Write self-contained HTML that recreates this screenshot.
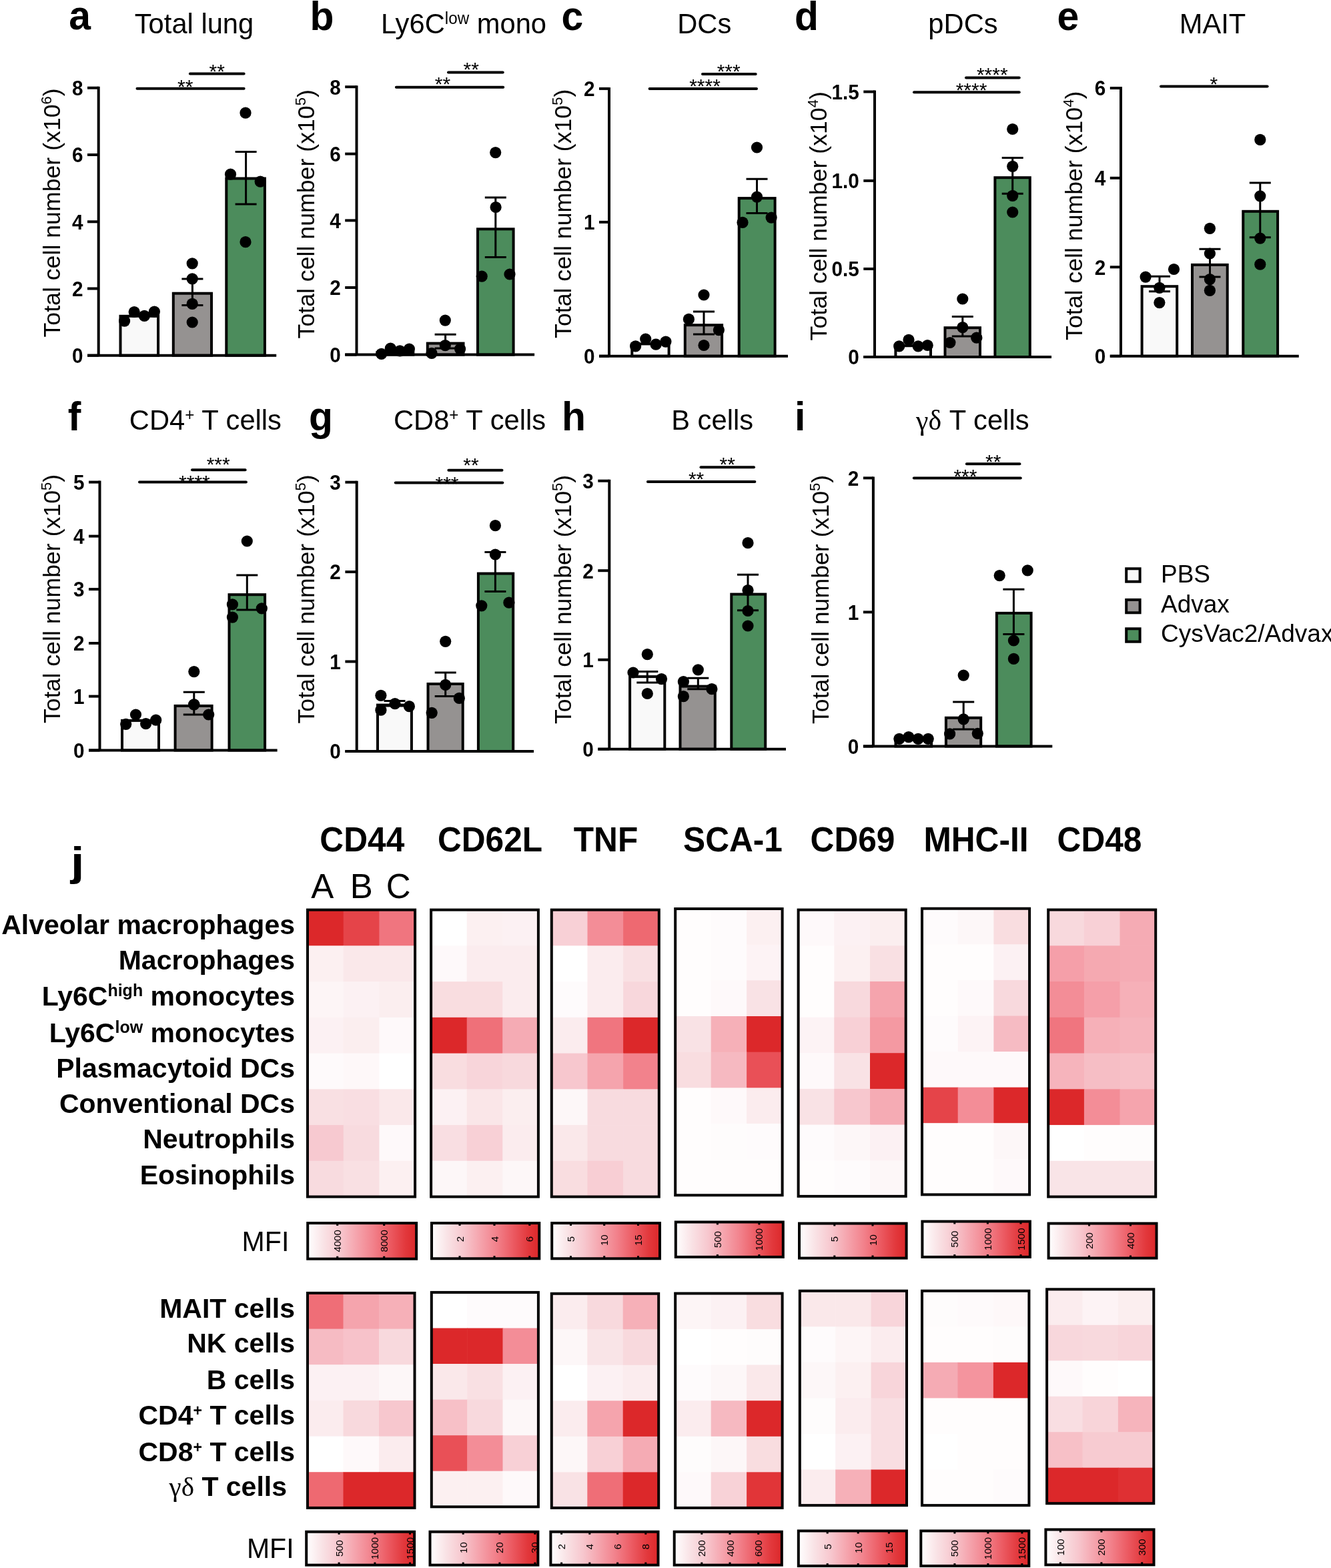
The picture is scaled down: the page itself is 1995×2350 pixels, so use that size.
<!DOCTYPE html><html><head><meta charset="utf-8"><title>Figure</title><style>html,body{margin:0;padding:0;background:#fff;}svg{display:block;}</style></head><body>
<svg width="1995" height="2350" viewBox="0 0 1995 2350" font-family="'Liberation Sans', Arial, Helvetica, sans-serif" fill="#000">
<defs><linearGradient id="mfigrad" x1="0" x2="1" y1="0" y2="0"><stop offset="0" stop-color="#ffffff"/><stop offset="0.15" stop-color="#f9e2e5"/><stop offset="0.3" stop-color="#f7c7ce"/><stop offset="0.45" stop-color="#f5a4ad"/><stop offset="0.6" stop-color="#f2828c"/><stop offset="0.75" stop-color="#ec5c64"/><stop offset="0.9" stop-color="#e2383c"/><stop offset="1.0" stop-color="#dc282a"/></linearGradient></defs>
<rect width="1995" height="2350" fill="#fff"/>
<rect x="180.5" y="473.8" width="56.6" height="58.9" fill="#f9f9f9" stroke="#000" stroke-width="4"/>
<rect x="259.8" y="439.7" width="57.2" height="93" fill="#959291" stroke="#000" stroke-width="4"/>
<rect x="339.3" y="267.5" width="57.6" height="265.2" fill="#4c8c5c" stroke="#000" stroke-width="4"/>
<path d="M288.4 417.9V457.4M272.4 417.9H304.4M272.4 457.4H304.4" stroke="#000" stroke-width="3" fill="none"/>
<path d="M368.6 227.4V305.9M352.6 227.4H384.6M352.6 305.9H384.6" stroke="#000" stroke-width="3" fill="none"/>
<circle cx="186.6" cy="481.1" r="8.6"/>
<circle cx="201.2" cy="467.5" r="8.6"/>
<circle cx="216.4" cy="473.3" r="8.6"/>
<circle cx="231.4" cy="467.2" r="8.6"/>
<circle cx="288.2" cy="394.8" r="8.6"/>
<circle cx="288.2" cy="417.9" r="8.6"/>
<circle cx="288.2" cy="455.4" r="8.6"/>
<circle cx="288.2" cy="483" r="8.6"/>
<circle cx="368" cy="169.2" r="8.6"/>
<circle cx="345.5" cy="261.2" r="8.6"/>
<circle cx="390.2" cy="272.2" r="8.6"/>
<circle cx="368" cy="362.7" r="8.6"/>
<path d="M147.7 129.7V532.7M131 532.7H414.2" stroke="#000" stroke-width="4" fill="none"/>
<path d="M131 131.7H147.7" stroke="#000" stroke-width="4"/>
<text transform="translate(124.5,143) scale(0.93,1)" text-anchor="end" font-weight="bold" font-size="32">8</text>
<path d="M131 232H147.7" stroke="#000" stroke-width="4"/>
<text transform="translate(124.5,243.3) scale(0.93,1)" text-anchor="end" font-weight="bold" font-size="32">6</text>
<path d="M131 332.3H147.7" stroke="#000" stroke-width="4"/>
<text transform="translate(124.5,343.6) scale(0.93,1)" text-anchor="end" font-weight="bold" font-size="32">4</text>
<path d="M131 432.5H147.7" stroke="#000" stroke-width="4"/>
<text transform="translate(124.5,443.8) scale(0.93,1)" text-anchor="end" font-weight="bold" font-size="32">2</text>
<path d="M131 532.7H147.7" stroke="#000" stroke-width="4"/>
<text transform="translate(124.5,544) scale(0.93,1)" text-anchor="end" font-weight="bold" font-size="32">0</text>
<path d="M205.5 132.7H365.6" stroke="#000" stroke-width="4" stroke-linecap="round"/>
<text x="277.7" y="139.5" text-anchor="middle" font-size="30">**</text>
<path d="M284.9 110.5H365.6" stroke="#000" stroke-width="4" stroke-linecap="round"/>
<text x="325.2" y="116.8" text-anchor="middle" font-size="30">**</text>
<text transform="translate(103.2,44) scale(0.95,1)" font-weight="bold" font-size="62">a</text>
<text transform="translate(291,50) scale(0.97,1)" text-anchor="middle" font-size="43">Total lung</text>
<text transform="translate(89.8,318.9) rotate(-90)" text-anchor="middle" font-size="35.7">Total cell number (x10<tspan font-size="22" dy="-13">6</tspan><tspan dy="13">)</tspan></text>
<rect x="565.5" y="528" width="53.8" height="3.6" fill="#f9f9f9" stroke="#000" stroke-width="4"/>
<rect x="640.8" y="514.6" width="53.7" height="17" fill="#959291" stroke="#000" stroke-width="4"/>
<rect x="716" y="343.3" width="53.6" height="188.3" fill="#4c8c5c" stroke="#000" stroke-width="4"/>
<path d="M667.6 501.3V522M651.6 501.3H683.6M651.6 522H683.6" stroke="#000" stroke-width="3" fill="none"/>
<path d="M742.8 296V385.6M726.8 296H758.8M726.8 385.6H758.8" stroke="#000" stroke-width="3" fill="none"/>
<circle cx="571.7" cy="530.3" r="8.6"/>
<circle cx="585.3" cy="522.2" r="8.6"/>
<circle cx="599.4" cy="525.8" r="8.6"/>
<circle cx="613.4" cy="523.1" r="8.6"/>
<circle cx="667.3" cy="480.1" r="8.6"/>
<circle cx="667.3" cy="517.6" r="8.6"/>
<circle cx="647" cy="529.4" r="8.6"/>
<circle cx="689.6" cy="523.1" r="8.6"/>
<circle cx="742.7" cy="228.6" r="8.6"/>
<circle cx="743.1" cy="310.5" r="8.6"/>
<circle cx="722.2" cy="414.2" r="8.6"/>
<circle cx="764" cy="411" r="8.6"/>
<path d="M534.5 128.2V531.6M517.2 531.6H801.1" stroke="#000" stroke-width="4" fill="none"/>
<path d="M517.2 130.2H534.5" stroke="#000" stroke-width="4"/>
<text transform="translate(510.7,141.5) scale(0.93,1)" text-anchor="end" font-weight="bold" font-size="32">8</text>
<path d="M517.2 230.6H534.5" stroke="#000" stroke-width="4"/>
<text transform="translate(510.7,241.9) scale(0.93,1)" text-anchor="end" font-weight="bold" font-size="32">6</text>
<path d="M517.2 330.4H534.5" stroke="#000" stroke-width="4"/>
<text transform="translate(510.7,341.7) scale(0.93,1)" text-anchor="end" font-weight="bold" font-size="32">4</text>
<path d="M517.2 431H534.5" stroke="#000" stroke-width="4"/>
<text transform="translate(510.7,442.3) scale(0.93,1)" text-anchor="end" font-weight="bold" font-size="32">2</text>
<path d="M517.2 531.6H534.5" stroke="#000" stroke-width="4"/>
<text transform="translate(510.7,542.9) scale(0.93,1)" text-anchor="end" font-weight="bold" font-size="32">0</text>
<path d="M593.9 130.7H754.2" stroke="#000" stroke-width="4" stroke-linecap="round"/>
<text x="663.5" y="135.8" text-anchor="middle" font-size="30">**</text>
<path d="M672 108.6H753.7" stroke="#000" stroke-width="4" stroke-linecap="round"/>
<text x="706.2" y="114.3" text-anchor="middle" font-size="30">**</text>
<text transform="translate(464.4,44.5) scale(0.95,1)" font-weight="bold" font-size="62">b</text>
<text transform="translate(695,50) scale(0.97,1)" text-anchor="middle" font-size="43">Ly6C<tspan font-size="25" dy="-14.5">low</tspan><tspan dy="14.5"> mono</tspan></text>
<text transform="translate(471.4,320.8) rotate(-90)" text-anchor="middle" font-size="35.7">Total cell number (x10<tspan font-size="22" dy="-13">5</tspan><tspan dy="13">)</tspan></text>
<rect x="947.3" y="515.4" width="55.3" height="18.3" fill="#f9f9f9" stroke="#000" stroke-width="4"/>
<rect x="1026.8" y="487.2" width="55.3" height="46.5" fill="#959291" stroke="#000" stroke-width="4"/>
<rect x="1107.7" y="297.1" width="53.9" height="236.6" fill="#4c8c5c" stroke="#000" stroke-width="4"/>
<path d="M1055 467V501M1039 467H1071M1039 501H1071" stroke="#000" stroke-width="3" fill="none"/>
<path d="M1134.5 268.2V319.4M1118.5 268.2H1150.5M1118.5 319.4H1150.5" stroke="#000" stroke-width="3" fill="none"/>
<circle cx="952.6" cy="518.9" r="8.6"/>
<circle cx="967.7" cy="508.1" r="8.6"/>
<circle cx="983.1" cy="516.2" r="8.6"/>
<circle cx="997.9" cy="512.1" r="8.6"/>
<circle cx="1055" cy="442" r="8.6"/>
<circle cx="1032.4" cy="478.4" r="8.6"/>
<circle cx="1077.4" cy="494.6" r="8.6"/>
<circle cx="1055" cy="517.5" r="8.6"/>
<circle cx="1134.5" cy="221" r="8.6"/>
<circle cx="1134.5" cy="295.1" r="8.6"/>
<circle cx="1113" cy="333.4" r="8.6"/>
<circle cx="1156.1" cy="326.1" r="8.6"/>
<path d="M913 130.9V533.7M898 533.7H1181" stroke="#000" stroke-width="4" fill="none"/>
<path d="M898 132.9H913" stroke="#000" stroke-width="4"/>
<text transform="translate(891.5,144.2) scale(0.93,1)" text-anchor="end" font-weight="bold" font-size="32">2</text>
<path d="M898 332.9H913" stroke="#000" stroke-width="4"/>
<text transform="translate(891.5,344.2) scale(0.93,1)" text-anchor="end" font-weight="bold" font-size="32">1</text>
<path d="M898 533.7H913" stroke="#000" stroke-width="4"/>
<text transform="translate(891.5,545) scale(0.93,1)" text-anchor="end" font-weight="bold" font-size="32">0</text>
<path d="M973.6 132.9H1134" stroke="#000" stroke-width="4" stroke-linecap="round"/>
<text x="1056.5" y="138.5" text-anchor="middle" font-size="30">****</text>
<path d="M1053 111H1132.7" stroke="#000" stroke-width="4" stroke-linecap="round"/>
<text x="1092.2" y="117" text-anchor="middle" font-size="30">***</text>
<text transform="translate(841.6,44.5) scale(0.95,1)" font-weight="bold" font-size="62">c</text>
<text transform="translate(1055.8,50) scale(0.97,1)" text-anchor="middle" font-size="43">DCs</text>
<text transform="translate(855.8,320.3) rotate(-90)" text-anchor="middle" font-size="35.7">Total cell number (x10<tspan font-size="22" dy="-13">5</tspan><tspan dy="13">)</tspan></text>
<rect x="1342.4" y="518.2" width="52.6" height="16.8" fill="#f9f9f9" stroke="#000" stroke-width="4"/>
<rect x="1416.5" y="491.2" width="52.5" height="43.8" fill="#959291" stroke="#000" stroke-width="4"/>
<rect x="1491.4" y="266.2" width="52.4" height="268.8" fill="#4c8c5c" stroke="#000" stroke-width="4"/>
<path d="M1442.8 474.4V504M1426.8 474.4H1458.8M1426.8 504H1458.8" stroke="#000" stroke-width="3" fill="none"/>
<path d="M1517.7 236.4V290.3M1501.7 236.4H1533.7M1501.7 290.3H1533.7" stroke="#000" stroke-width="3" fill="none"/>
<circle cx="1347.7" cy="518.9" r="8.6"/>
<circle cx="1362" cy="509.4" r="8.6"/>
<circle cx="1376.2" cy="518.9" r="8.6"/>
<circle cx="1390.2" cy="517.5" r="8.6"/>
<circle cx="1442.8" cy="448" r="8.6"/>
<circle cx="1442.8" cy="490.6" r="8.6"/>
<circle cx="1423.9" cy="513.5" r="8.6"/>
<circle cx="1463.8" cy="506.2" r="8.6"/>
<circle cx="1517.7" cy="193.5" r="8.6"/>
<circle cx="1517.7" cy="249.3" r="8.6"/>
<circle cx="1517.7" cy="293.3" r="8.6"/>
<circle cx="1517.7" cy="318" r="8.6"/>
<path d="M1311 135.5V535M1294.3 535H1576" stroke="#000" stroke-width="4" fill="none"/>
<path d="M1294.3 137.5H1311" stroke="#000" stroke-width="4"/>
<text transform="translate(1287.8,148.8) scale(0.93,1)" text-anchor="end" font-weight="bold" font-size="32">1.5</text>
<path d="M1294.3 270.9H1311" stroke="#000" stroke-width="4"/>
<text transform="translate(1287.8,282.2) scale(0.93,1)" text-anchor="end" font-weight="bold" font-size="32">1.0</text>
<path d="M1294.3 403H1311" stroke="#000" stroke-width="4"/>
<text transform="translate(1287.8,414.3) scale(0.93,1)" text-anchor="end" font-weight="bold" font-size="32">0.5</text>
<path d="M1294.3 535H1311" stroke="#000" stroke-width="4"/>
<text transform="translate(1287.8,546.3) scale(0.93,1)" text-anchor="end" font-weight="bold" font-size="32">0</text>
<path d="M1370 138.3H1527.7" stroke="#000" stroke-width="4" stroke-linecap="round"/>
<text x="1456" y="145.3" text-anchor="middle" font-size="30">****</text>
<path d="M1448 116.4H1527.7" stroke="#000" stroke-width="4" stroke-linecap="round"/>
<text x="1487.3" y="122.4" text-anchor="middle" font-size="30">****</text>
<text transform="translate(1191.1,44.5) scale(0.95,1)" font-weight="bold" font-size="62">d</text>
<text transform="translate(1443.5,50) scale(0.97,1)" text-anchor="middle" font-size="43">pDCs</text>
<text transform="translate(1239.4,323.8) rotate(-90)" text-anchor="middle" font-size="35.7">Total cell number (x10<tspan font-size="22" dy="-13">4</tspan><tspan dy="13">)</tspan></text>
<rect x="1711.6" y="429.2" width="52.6" height="104.5" fill="#f9f9f9" stroke="#000" stroke-width="4"/>
<rect x="1787" y="396.9" width="52.7" height="136.8" fill="#959291" stroke="#000" stroke-width="4"/>
<rect x="1863.3" y="316.8" width="51.8" height="216.9" fill="#4c8c5c" stroke="#000" stroke-width="4"/>
<path d="M1738 414.3V436.7M1722 414.3H1754M1722 436.7H1754" stroke="#000" stroke-width="3" fill="none"/>
<path d="M1813.5 373.3V415.1M1797.5 373.3H1829.5M1797.5 415.1H1829.5" stroke="#000" stroke-width="3" fill="none"/>
<path d="M1888.8 274.1V355.8M1872.8 274.1H1904.8M1872.8 355.8H1904.8" stroke="#000" stroke-width="3" fill="none"/>
<circle cx="1717.1" cy="415.1" r="8.6"/>
<circle cx="1737.9" cy="431.3" r="8.6"/>
<circle cx="1737.9" cy="453.6" r="8.6"/>
<circle cx="1759.5" cy="403.5" r="8.6"/>
<circle cx="1813.4" cy="342.3" r="8.6"/>
<circle cx="1813.4" cy="380" r="8.6"/>
<circle cx="1813.4" cy="418.6" r="8.6"/>
<circle cx="1813.4" cy="435.3" r="8.6"/>
<circle cx="1888.8" cy="209.4" r="8.6"/>
<circle cx="1888.8" cy="293.8" r="8.6"/>
<circle cx="1888.8" cy="357.1" r="8.6"/>
<circle cx="1888.8" cy="396.2" r="8.6"/>
<path d="M1680 130V533.7M1663.8 533.7H1946.8" stroke="#000" stroke-width="4" fill="none"/>
<path d="M1663.8 132H1680" stroke="#000" stroke-width="4"/>
<text transform="translate(1657.3,143.3) scale(0.93,1)" text-anchor="end" font-weight="bold" font-size="32">6</text>
<path d="M1663.8 266.8H1680" stroke="#000" stroke-width="4"/>
<text transform="translate(1657.3,278.1) scale(0.93,1)" text-anchor="end" font-weight="bold" font-size="32">4</text>
<path d="M1663.8 400.3H1680" stroke="#000" stroke-width="4"/>
<text transform="translate(1657.3,411.6) scale(0.93,1)" text-anchor="end" font-weight="bold" font-size="32">2</text>
<path d="M1663.8 533.7H1680" stroke="#000" stroke-width="4"/>
<text transform="translate(1657.3,545) scale(0.93,1)" text-anchor="end" font-weight="bold" font-size="32">0</text>
<path d="M1740 129.4H1899.6" stroke="#000" stroke-width="4" stroke-linecap="round"/>
<text x="1819.4" y="135.8" text-anchor="middle" font-size="30">*</text>
<text transform="translate(1584.6,44.5) scale(0.95,1)" font-weight="bold" font-size="62">e</text>
<text transform="translate(1817.5,50) scale(0.97,1)" text-anchor="middle" font-size="43">MAIT</text>
<text transform="translate(1622.4,323.3) rotate(-90)" text-anchor="middle" font-size="35.7">Total cell number (x10<tspan font-size="22" dy="-13">4</tspan><tspan dy="13">)</tspan></text>
<rect x="183" y="1079.9" width="55" height="44.6" fill="#f9f9f9" stroke="#000" stroke-width="4"/>
<rect x="262.6" y="1057.9" width="55" height="66.6" fill="#959291" stroke="#000" stroke-width="4"/>
<rect x="343.5" y="891.2" width="53.6" height="233.3" fill="#4c8c5c" stroke="#000" stroke-width="4"/>
<path d="M290.8 1037.3V1071M274.8 1037.3H306.8M274.8 1071H306.8" stroke="#000" stroke-width="3" fill="none"/>
<path d="M370.3 862V914.1M354.3 862H386.3M354.3 914.1H386.3" stroke="#000" stroke-width="3" fill="none"/>
<circle cx="188.7" cy="1085.3" r="8.6"/>
<circle cx="203.5" cy="1071" r="8.6"/>
<circle cx="218.6" cy="1084.7" r="8.6"/>
<circle cx="233.7" cy="1079.2" r="8.6"/>
<circle cx="290.8" cy="1006.6" r="8.6"/>
<circle cx="290.8" cy="1055.9" r="8.6"/>
<circle cx="312.7" cy="1071" r="8.6"/>
<circle cx="290.8" cy="1055.9" r="8.6"/>
<circle cx="370.3" cy="811" r="8.6"/>
<circle cx="348.4" cy="905.9" r="8.6"/>
<circle cx="348.4" cy="925.1" r="8.6"/>
<circle cx="392.3" cy="911.9" r="8.6"/>
<path d="M149.5 720.6V1124.5M133 1124.5H415.6" stroke="#000" stroke-width="4" fill="none"/>
<path d="M133 722.6H149.5" stroke="#000" stroke-width="4"/>
<text transform="translate(126.5,733.9) scale(0.93,1)" text-anchor="end" font-weight="bold" font-size="32">5</text>
<path d="M133 803.6H149.5" stroke="#000" stroke-width="4"/>
<text transform="translate(126.5,814.9) scale(0.93,1)" text-anchor="end" font-weight="bold" font-size="32">4</text>
<path d="M133 883.1H149.5" stroke="#000" stroke-width="4"/>
<text transform="translate(126.5,894.4) scale(0.93,1)" text-anchor="end" font-weight="bold" font-size="32">3</text>
<path d="M133 964H149.5" stroke="#000" stroke-width="4"/>
<text transform="translate(126.5,975.3) scale(0.93,1)" text-anchor="end" font-weight="bold" font-size="32">2</text>
<path d="M133 1043.6H149.5" stroke="#000" stroke-width="4"/>
<text transform="translate(126.5,1054.9) scale(0.93,1)" text-anchor="end" font-weight="bold" font-size="32">1</text>
<path d="M133 1124.5H149.5" stroke="#000" stroke-width="4"/>
<text transform="translate(126.5,1135.8) scale(0.93,1)" text-anchor="end" font-weight="bold" font-size="32">0</text>
<path d="M209 722.6H368.9" stroke="#000" stroke-width="4" stroke-linecap="round"/>
<text x="291.4" y="733.1" text-anchor="middle" font-size="30">****</text>
<path d="M288 704.3H367.6" stroke="#000" stroke-width="4" stroke-linecap="round"/>
<text x="327.2" y="705.7" text-anchor="middle" font-size="30">***</text>
<text transform="translate(101.7,644.5) scale(0.95,1)" font-weight="bold" font-size="62">f</text>
<text transform="translate(307.9,644) scale(0.97,1)" text-anchor="middle" font-size="43">CD4<tspan font-size="25" dy="-14.5">+</tspan><tspan dy="14.5"> T cells</tspan></text>
<text transform="translate(89.5,897.4) rotate(-90)" text-anchor="middle" font-size="35.7">Total cell number (x10<tspan font-size="22" dy="-13">5</tspan><tspan dy="13">)</tspan></text>
<rect x="566" y="1056.6" width="50.9" height="69.4" fill="#f9f9f9" stroke="#000" stroke-width="4"/>
<rect x="641.5" y="1025" width="52.2" height="101" fill="#959291" stroke="#000" stroke-width="4"/>
<rect x="716.9" y="859.6" width="52.3" height="266.4" fill="#4c8c5c" stroke="#000" stroke-width="4"/>
<path d="M591.5 1050.5V1058M575.5 1050.5H607.5M575.5 1058H607.5" stroke="#000" stroke-width="3" fill="none"/>
<path d="M667.7 1008V1043.6M651.7 1008H683.7M651.7 1043.6H683.7" stroke="#000" stroke-width="3" fill="none"/>
<path d="M742.4 827.5V886.4M726.4 827.5H758.4M726.4 886.4H758.4" stroke="#000" stroke-width="3" fill="none"/>
<circle cx="570.9" cy="1042.3" r="8.6"/>
<circle cx="570.9" cy="1064.2" r="8.6"/>
<circle cx="592" cy="1054.6" r="8.6"/>
<circle cx="613.4" cy="1058.7" r="8.6"/>
<circle cx="667.7" cy="961.3" r="8.6"/>
<circle cx="667.7" cy="1026.4" r="8.6"/>
<circle cx="647.2" cy="1068.3" r="8.6"/>
<circle cx="688.3" cy="1046.4" r="8.6"/>
<circle cx="742.4" cy="787.7" r="8.6"/>
<circle cx="742.4" cy="831" r="8.6"/>
<circle cx="721.8" cy="907.8" r="8.6"/>
<circle cx="762.9" cy="903.2" r="8.6"/>
<path d="M534.7 720.7V1126M517.4 1126H800" stroke="#000" stroke-width="4" fill="none"/>
<path d="M517.4 722.7H534.7" stroke="#000" stroke-width="4"/>
<text transform="translate(510.9,734) scale(0.93,1)" text-anchor="end" font-weight="bold" font-size="32">3</text>
<path d="M517.4 857.1H534.7" stroke="#000" stroke-width="4"/>
<text transform="translate(510.9,868.4) scale(0.93,1)" text-anchor="end" font-weight="bold" font-size="32">2</text>
<path d="M517.4 991.5H534.7" stroke="#000" stroke-width="4"/>
<text transform="translate(510.9,1002.8) scale(0.93,1)" text-anchor="end" font-weight="bold" font-size="32">1</text>
<path d="M517.4 1126H534.7" stroke="#000" stroke-width="4"/>
<text transform="translate(510.9,1137.3) scale(0.93,1)" text-anchor="end" font-weight="bold" font-size="32">0</text>
<path d="M592.8 723.5H753.3" stroke="#000" stroke-width="4" stroke-linecap="round"/>
<text x="670" y="734.5" text-anchor="middle" font-size="30">***</text>
<path d="M672.4 704.8H752.5" stroke="#000" stroke-width="4" stroke-linecap="round"/>
<text x="706" y="707.1" text-anchor="middle" font-size="30">**</text>
<text transform="translate(462.9,644.5) scale(0.95,1)" font-weight="bold" font-size="62">g</text>
<text transform="translate(704,644) scale(0.97,1)" text-anchor="middle" font-size="43">CD8<tspan font-size="25" dy="-14.5">+</tspan><tspan dy="14.5"> T cells</tspan></text>
<text transform="translate(471.4,897.9) rotate(-90)" text-anchor="middle" font-size="35.7">Total cell number (x10<tspan font-size="22" dy="-13">5</tspan><tspan dy="13">)</tspan></text>
<rect x="944.1" y="1014.1" width="52.2" height="108.6" fill="#f9f9f9" stroke="#000" stroke-width="4"/>
<rect x="1019.5" y="1028.6" width="52.3" height="94.1" fill="#959291" stroke="#000" stroke-width="4"/>
<rect x="1096.3" y="890.6" width="50.9" height="232.1" fill="#4c8c5c" stroke="#000" stroke-width="4"/>
<path d="M970.3 1006.6V1023M954.3 1006.6H986.3M954.3 1023H986.3" stroke="#000" stroke-width="3" fill="none"/>
<path d="M1046.3 1016.2V1032.7M1030.3 1016.2H1062.3M1030.3 1032.7H1062.3" stroke="#000" stroke-width="3" fill="none"/>
<path d="M1121 861.2V914.7M1105 861.2H1137M1105 914.7H1137" stroke="#000" stroke-width="3" fill="none"/>
<circle cx="970.3" cy="980.6" r="8.6"/>
<circle cx="949" cy="1008" r="8.6"/>
<circle cx="991.5" cy="1017.6" r="8.6"/>
<circle cx="970.3" cy="1039.5" r="8.6"/>
<circle cx="1046.3" cy="1003.9" r="8.6"/>
<circle cx="1024.4" cy="1021.7" r="8.6"/>
<circle cx="1024.4" cy="1043.7" r="8.6"/>
<circle cx="1066.9" cy="1032.7" r="8.6"/>
<circle cx="1121" cy="813.7" r="8.6"/>
<circle cx="1121" cy="884.5" r="8.6"/>
<circle cx="1121" cy="915.5" r="8.6"/>
<circle cx="1121" cy="938" r="8.6"/>
<path d="M913.3 718.7V1122.7M896.3 1122.7H1178" stroke="#000" stroke-width="4" fill="none"/>
<path d="M896.3 720.7H913.3" stroke="#000" stroke-width="4"/>
<text transform="translate(889.8,732) scale(0.93,1)" text-anchor="end" font-weight="bold" font-size="32">3</text>
<path d="M896.3 855.2H913.3" stroke="#000" stroke-width="4"/>
<text transform="translate(889.8,866.5) scale(0.93,1)" text-anchor="end" font-weight="bold" font-size="32">2</text>
<path d="M896.3 988.8H913.3" stroke="#000" stroke-width="4"/>
<text transform="translate(889.8,1000.1) scale(0.93,1)" text-anchor="end" font-weight="bold" font-size="32">1</text>
<path d="M896.3 1122.7H913.3" stroke="#000" stroke-width="4"/>
<text transform="translate(889.8,1134) scale(0.93,1)" text-anchor="end" font-weight="bold" font-size="32">0</text>
<path d="M970.9 722.1H1131.4" stroke="#000" stroke-width="4" stroke-linecap="round"/>
<text x="1043.6" y="727.7" text-anchor="middle" font-size="30">**</text>
<path d="M1050.5 700.2H1130" stroke="#000" stroke-width="4" stroke-linecap="round"/>
<text x="1090.2" y="705.7" text-anchor="middle" font-size="30">**</text>
<text transform="translate(841.9,644.5) scale(0.95,1)" font-weight="bold" font-size="62">h</text>
<text transform="translate(1067.6,644) scale(0.97,1)" text-anchor="middle" font-size="43">B cells</text>
<text transform="translate(855.8,898.4) rotate(-90)" text-anchor="middle" font-size="35.7">Total cell number (x10<tspan font-size="22" dy="-13">5</tspan><tspan dy="13">)</tspan></text>
<rect x="1342.5" y="1108.7" width="53.6" height="9.8" fill="#f9f9f9" stroke="#000" stroke-width="4"/>
<rect x="1417.9" y="1075.8" width="52.3" height="42.7" fill="#959291" stroke="#000" stroke-width="4"/>
<rect x="1493.9" y="918.9" width="51.7" height="199.6" fill="#4c8c5c" stroke="#000" stroke-width="4"/>
<path d="M1444.2 1051.9V1093M1428.2 1051.9H1460.2M1428.2 1093H1460.2" stroke="#000" stroke-width="3" fill="none"/>
<path d="M1519.4 883.2V950.4M1503.4 883.2H1535.4M1503.4 950.4H1535.4" stroke="#000" stroke-width="3" fill="none"/>
<circle cx="1347.9" cy="1107.3" r="8.6"/>
<circle cx="1361.9" cy="1104.6" r="8.6"/>
<circle cx="1376.2" cy="1107.3" r="8.6"/>
<circle cx="1391.2" cy="1107.3" r="8.6"/>
<circle cx="1444.2" cy="1012.1" r="8.6"/>
<circle cx="1444.2" cy="1077.9" r="8.6"/>
<circle cx="1423.6" cy="1099.9" r="8.6"/>
<circle cx="1465.3" cy="1099.3" r="8.6"/>
<circle cx="1498.2" cy="862.6" r="8.6"/>
<circle cx="1540.2" cy="854.9" r="8.6"/>
<circle cx="1519.4" cy="960" r="8.6"/>
<circle cx="1519.4" cy="987.4" r="8.6"/>
<path d="M1308.9 714.4V1118.5M1293.9 1118.5H1577.3" stroke="#000" stroke-width="4" fill="none"/>
<path d="M1293.9 716.4H1308.9" stroke="#000" stroke-width="4"/>
<text transform="translate(1287.4,727.7) scale(0.93,1)" text-anchor="end" font-weight="bold" font-size="32">2</text>
<path d="M1293.9 917.4H1308.9" stroke="#000" stroke-width="4"/>
<text transform="translate(1287.4,928.7) scale(0.93,1)" text-anchor="end" font-weight="bold" font-size="32">1</text>
<path d="M1293.9 1118.5H1308.9" stroke="#000" stroke-width="4"/>
<text transform="translate(1287.4,1129.8) scale(0.93,1)" text-anchor="end" font-weight="bold" font-size="32">0</text>
<path d="M1369.8 716.6H1529.8" stroke="#000" stroke-width="4" stroke-linecap="round"/>
<text x="1446.9" y="723.5" text-anchor="middle" font-size="30">***</text>
<path d="M1448.9 695.2H1528.4" stroke="#000" stroke-width="4" stroke-linecap="round"/>
<text x="1488.7" y="701.5" text-anchor="middle" font-size="30">**</text>
<text transform="translate(1190.9,644.5) scale(0.95,1)" font-weight="bold" font-size="62">i</text>
<text transform="translate(1457.8,644) scale(0.97,1)" text-anchor="middle" font-size="43"><tspan font-family="'Liberation Serif', 'Times New Roman', serif">γδ</tspan> T cells</text>
<text transform="translate(1242.4,898.4) rotate(-90)" text-anchor="middle" font-size="35.7">Total cell number (x10<tspan font-size="22" dy="-13">5</tspan><tspan dy="13">)</tspan></text>
<rect x="1688.2" y="852.3" width="20.4" height="19.4" fill="#f9f9f9" stroke="#000" stroke-width="4"/>
<text x="1740" y="873.2" font-size="37">PBS</text>
<rect x="1688.2" y="898.9" width="20.4" height="19.4" fill="#959291" stroke="#000" stroke-width="4"/>
<text x="1740" y="917.8" font-size="37">Advax</text>
<rect x="1688.2" y="942.3" width="20.4" height="19.4" fill="#4c8c5c" stroke="#000" stroke-width="4"/>
<text x="1740" y="962.2" font-size="37">CysVac2/Advax</text>
<text transform="translate(542.8,1275.5) scale(0.966,1)" text-anchor="middle" font-weight="bold" font-size="51.4">CD44</text>
<rect x="461" y="1363.6" width="54.3" height="54.4" fill="#dc282a"/>
<rect x="514.7" y="1363.6" width="54.3" height="54.4" fill="#e54449"/>
<rect x="568.4" y="1363.6" width="54.3" height="54.4" fill="#f0757f"/>
<rect x="461" y="1417.3" width="54.3" height="54.4" fill="#fcf0f1"/>
<rect x="514.7" y="1417.3" width="54.3" height="54.4" fill="#fae8ea"/>
<rect x="568.4" y="1417.3" width="54.3" height="54.4" fill="#fae8ea"/>
<rect x="461" y="1471.1" width="54.3" height="54.4" fill="#fdf5f6"/>
<rect x="514.7" y="1471.1" width="54.3" height="54.4" fill="#fcf1f3"/>
<rect x="568.4" y="1471.1" width="54.3" height="54.4" fill="#fbeeef"/>
<rect x="461" y="1524.8" width="54.3" height="54.4" fill="#fcf1f3"/>
<rect x="514.7" y="1524.8" width="54.3" height="54.4" fill="#fbeeef"/>
<rect x="568.4" y="1524.8" width="54.3" height="54.4" fill="#fef9fa"/>
<rect x="461" y="1578.6" width="54.3" height="54.4" fill="#fefafb"/>
<rect x="514.7" y="1578.6" width="54.3" height="54.4" fill="#fef8f9"/>
<rect x="568.4" y="1578.6" width="54.3" height="54.4" fill="#ffffff"/>
<rect x="461" y="1632.3" width="54.3" height="54.4" fill="#f9e0e3"/>
<rect x="514.7" y="1632.3" width="54.3" height="54.4" fill="#f9dee2"/>
<rect x="568.4" y="1632.3" width="54.3" height="54.4" fill="#fae8ea"/>
<rect x="461" y="1686.1" width="54.3" height="54.4" fill="#f7c9d0"/>
<rect x="514.7" y="1686.1" width="54.3" height="54.4" fill="#f8dbdf"/>
<rect x="568.4" y="1686.1" width="54.3" height="54.4" fill="#fef9fa"/>
<rect x="461" y="1739.8" width="54.3" height="54.4" fill="#f8dbdf"/>
<rect x="514.7" y="1739.8" width="54.3" height="54.4" fill="#f9e0e3"/>
<rect x="568.4" y="1739.8" width="54.3" height="54.4" fill="#fcf0f1"/>
<rect x="461" y="1363.6" width="161.1" height="430" fill="none" stroke="#000" stroke-width="4"/>
<rect x="461" y="1937.9" width="54.1" height="54.3" fill="#ef6e77"/>
<rect x="514.5" y="1937.9" width="54.1" height="54.3" fill="#f5a4ad"/>
<rect x="568" y="1937.9" width="54.1" height="54.3" fill="#f6b0b8"/>
<rect x="461" y="1991.6" width="54.1" height="54.3" fill="#f6bbc3"/>
<rect x="514.5" y="1991.6" width="54.1" height="54.3" fill="#f7c2ca"/>
<rect x="568" y="1991.6" width="54.1" height="54.3" fill="#f8d9dd"/>
<rect x="461" y="2045.2" width="54.1" height="54.3" fill="#fcf1f3"/>
<rect x="514.5" y="2045.2" width="54.1" height="54.3" fill="#fcf1f3"/>
<rect x="568" y="2045.2" width="54.1" height="54.3" fill="#fdf7f8"/>
<rect x="461" y="2098.9" width="54.1" height="54.3" fill="#fbecee"/>
<rect x="514.5" y="2098.9" width="54.1" height="54.3" fill="#f8d9dd"/>
<rect x="568" y="2098.9" width="54.1" height="54.3" fill="#f7c7ce"/>
<rect x="461" y="2152.6" width="54.1" height="54.3" fill="#ffffff"/>
<rect x="514.5" y="2152.6" width="54.1" height="54.3" fill="#fef9fa"/>
<rect x="568" y="2152.6" width="54.1" height="54.3" fill="#fbecee"/>
<rect x="461" y="2206.2" width="54.1" height="54.3" fill="#ee6971"/>
<rect x="514.5" y="2206.2" width="54.1" height="54.3" fill="#dc282a"/>
<rect x="568" y="2206.2" width="54.1" height="54.3" fill="#dc282a"/>
<rect x="461" y="1937.9" width="160.5" height="322" fill="none" stroke="#000" stroke-width="4"/>
<rect x="461.2" y="1833.1" width="162.9" height="53.6" fill="url(#mfigrad)" stroke="#000" stroke-width="4"/>
<path d="M505.7 1833.1v4M505.7 1886.7v-4" stroke="#000" stroke-width="3"/>
<text transform="translate(511.2,1859.9) rotate(-90)" text-anchor="middle" font-size="15">4000</text>
<path d="M575.7 1833.1v4M575.7 1886.7v-4" stroke="#000" stroke-width="3"/>
<text transform="translate(581.2,1859.9) rotate(-90)" text-anchor="middle" font-size="15">8000</text>
<rect x="459.2" y="2295.7" width="161.9" height="49.9" fill="url(#mfigrad)" stroke="#000" stroke-width="4"/>
<path d="M508.1 2295.7v4M508.1 2345.6v-4" stroke="#000" stroke-width="3"/>
<text transform="translate(513.6,2320.6) rotate(-90)" text-anchor="middle" font-size="15">500</text>
<path d="M561.9 2295.7v4M561.9 2345.6v-4" stroke="#000" stroke-width="3"/>
<text transform="translate(567.4,2320.6) rotate(-90)" text-anchor="middle" font-size="15">1000</text>
<path d="M614.5 2295.7v4M614.5 2345.6v-4" stroke="#000" stroke-width="3"/>
<text transform="translate(620,2320.6) rotate(-90)" text-anchor="middle" font-size="15">1500</text>
<text transform="translate(734.5,1275.5) scale(0.966,1)" text-anchor="middle" font-weight="bold" font-size="51.4">CD62L</text>
<rect x="646.1" y="1363.6" width="54.2" height="54.4" fill="#ffffff"/>
<rect x="699.7" y="1363.6" width="54.2" height="54.4" fill="#fcf0f1"/>
<rect x="753.3" y="1363.6" width="54.2" height="54.4" fill="#fcf1f3"/>
<rect x="646.1" y="1417.3" width="54.2" height="54.4" fill="#fef9fa"/>
<rect x="699.7" y="1417.3" width="54.2" height="54.4" fill="#fbecee"/>
<rect x="753.3" y="1417.3" width="54.2" height="54.4" fill="#fbecee"/>
<rect x="646.1" y="1471.1" width="54.2" height="54.4" fill="#f9dde0"/>
<rect x="699.7" y="1471.1" width="54.2" height="54.4" fill="#f9dde0"/>
<rect x="753.3" y="1471.1" width="54.2" height="54.4" fill="#fbecee"/>
<rect x="646.1" y="1524.8" width="54.2" height="54.4" fill="#dc282a"/>
<rect x="699.7" y="1524.8" width="54.2" height="54.4" fill="#ef7079"/>
<rect x="753.3" y="1524.8" width="54.2" height="54.4" fill="#f5abb4"/>
<rect x="646.1" y="1578.6" width="54.2" height="54.4" fill="#f9dde0"/>
<rect x="699.7" y="1578.6" width="54.2" height="54.4" fill="#f8d5da"/>
<rect x="753.3" y="1578.6" width="54.2" height="54.4" fill="#f8d9dd"/>
<rect x="646.1" y="1632.3" width="54.2" height="54.4" fill="#fcf1f3"/>
<rect x="699.7" y="1632.3" width="54.2" height="54.4" fill="#fae6e8"/>
<rect x="753.3" y="1632.3" width="54.2" height="54.4" fill="#fbeeef"/>
<rect x="646.1" y="1686.1" width="54.2" height="54.4" fill="#f9dee2"/>
<rect x="699.7" y="1686.1" width="54.2" height="54.4" fill="#f8d0d6"/>
<rect x="753.3" y="1686.1" width="54.2" height="54.4" fill="#fbecee"/>
<rect x="646.1" y="1739.8" width="54.2" height="54.4" fill="#fdf7f8"/>
<rect x="699.7" y="1739.8" width="54.2" height="54.4" fill="#fcf0f1"/>
<rect x="753.3" y="1739.8" width="54.2" height="54.4" fill="#fdf7f8"/>
<rect x="646.1" y="1363.6" width="160.8" height="430" fill="none" stroke="#000" stroke-width="4"/>
<rect x="646.8" y="1936.9" width="54" height="54.2" fill="#ffffff"/>
<rect x="700.2" y="1936.9" width="54" height="54.2" fill="#fefbfc"/>
<rect x="753.5" y="1936.9" width="54" height="54.2" fill="#fefbfc"/>
<rect x="646.8" y="1990.5" width="54" height="54.2" fill="#dc282a"/>
<rect x="700.2" y="1990.5" width="54" height="54.2" fill="#dc282a"/>
<rect x="753.5" y="1990.5" width="54" height="54.2" fill="#f38d97"/>
<rect x="646.8" y="2044" width="54" height="54.2" fill="#fae8ea"/>
<rect x="700.2" y="2044" width="54" height="54.2" fill="#f9e0e3"/>
<rect x="753.5" y="2044" width="54" height="54.2" fill="#fcf1f3"/>
<rect x="646.8" y="2097.6" width="54" height="54.2" fill="#f7c0c7"/>
<rect x="700.2" y="2097.6" width="54" height="54.2" fill="#f8d9dd"/>
<rect x="753.5" y="2097.6" width="54" height="54.2" fill="#fdf7f8"/>
<rect x="646.8" y="2151.2" width="54" height="54.2" fill="#e95057"/>
<rect x="700.2" y="2151.2" width="54" height="54.2" fill="#f38d97"/>
<rect x="753.5" y="2151.2" width="54" height="54.2" fill="#f8d0d6"/>
<rect x="646.8" y="2204.7" width="54" height="54.2" fill="#fcf0f1"/>
<rect x="700.2" y="2204.7" width="54" height="54.2" fill="#fcf0f1"/>
<rect x="753.5" y="2204.7" width="54" height="54.2" fill="#fef9fa"/>
<rect x="646.8" y="1936.9" width="160.1" height="321.4" fill="none" stroke="#000" stroke-width="4"/>
<rect x="647" y="1833.1" width="161.3" height="53.2" fill="url(#mfigrad)" stroke="#000" stroke-width="4"/>
<path d="M689 1833.1v4M689 1886.3v-4" stroke="#000" stroke-width="3"/>
<text transform="translate(694.5,1857.2) rotate(-90)" text-anchor="middle" font-size="15">2</text>
<path d="M741 1833.1v4M741 1886.3v-4" stroke="#000" stroke-width="3"/>
<text transform="translate(746.5,1857.2) rotate(-90)" text-anchor="middle" font-size="15">4</text>
<path d="M793.8 1833.1v4M793.8 1886.3v-4" stroke="#000" stroke-width="3"/>
<text transform="translate(799.3,1857.2) rotate(-90)" text-anchor="middle" font-size="15">6</text>
<rect x="644.5" y="2295.7" width="161.9" height="49.9" fill="url(#mfigrad)" stroke="#000" stroke-width="4"/>
<path d="M694.2 2295.7v4M694.2 2345.6v-4" stroke="#000" stroke-width="3"/>
<text transform="translate(699.7,2319.6) rotate(-90)" text-anchor="middle" font-size="15">10</text>
<path d="M748.9 2295.7v4M748.9 2345.6v-4" stroke="#000" stroke-width="3"/>
<text transform="translate(754.4,2319.6) rotate(-90)" text-anchor="middle" font-size="15">20</text>
<path d="M801.9 2295.7v4M801.9 2345.6v-4" stroke="#000" stroke-width="3"/>
<text transform="translate(807.4,2319.6) rotate(-90)" text-anchor="middle" font-size="15">30</text>
<text transform="translate(908,1275.5) scale(0.966,1)" text-anchor="middle" font-weight="bold" font-size="51.4">TNF</text>
<rect x="826.8" y="1363.6" width="54.3" height="54.4" fill="#f8d0d6"/>
<rect x="880.5" y="1363.6" width="54.3" height="54.4" fill="#f38d97"/>
<rect x="934.1" y="1363.6" width="54.3" height="54.4" fill="#ee6971"/>
<rect x="826.8" y="1417.3" width="54.3" height="54.4" fill="#ffffff"/>
<rect x="880.5" y="1417.3" width="54.3" height="54.4" fill="#fbecee"/>
<rect x="934.1" y="1417.3" width="54.3" height="54.4" fill="#f9e0e3"/>
<rect x="826.8" y="1471.1" width="54.3" height="54.4" fill="#fefbfc"/>
<rect x="880.5" y="1471.1" width="54.3" height="54.4" fill="#fbecee"/>
<rect x="934.1" y="1471.1" width="54.3" height="54.4" fill="#f8d7dc"/>
<rect x="826.8" y="1524.8" width="54.3" height="54.4" fill="#fbecee"/>
<rect x="880.5" y="1524.8" width="54.3" height="54.4" fill="#f0757f"/>
<rect x="934.1" y="1524.8" width="54.3" height="54.4" fill="#dc282a"/>
<rect x="826.8" y="1578.6" width="54.3" height="54.4" fill="#f7c7ce"/>
<rect x="880.5" y="1578.6" width="54.3" height="54.4" fill="#f5a4ad"/>
<rect x="934.1" y="1578.6" width="54.3" height="54.4" fill="#f2828c"/>
<rect x="826.8" y="1632.3" width="54.3" height="54.4" fill="#fdf7f8"/>
<rect x="880.5" y="1632.3" width="54.3" height="54.4" fill="#f8dbdf"/>
<rect x="934.1" y="1632.3" width="54.3" height="54.4" fill="#f8dbdf"/>
<rect x="826.8" y="1686.1" width="54.3" height="54.4" fill="#fae8ea"/>
<rect x="880.5" y="1686.1" width="54.3" height="54.4" fill="#f8dbdf"/>
<rect x="934.1" y="1686.1" width="54.3" height="54.4" fill="#f8dbdf"/>
<rect x="826.8" y="1739.8" width="54.3" height="54.4" fill="#f9dde0"/>
<rect x="880.5" y="1739.8" width="54.3" height="54.4" fill="#f8ced4"/>
<rect x="934.1" y="1739.8" width="54.3" height="54.4" fill="#f8dbdf"/>
<rect x="826.8" y="1363.6" width="161" height="430" fill="none" stroke="#000" stroke-width="4"/>
<rect x="826.8" y="1938.8" width="54.1" height="54.1" fill="#fbecee"/>
<rect x="880.3" y="1938.8" width="54.1" height="54.1" fill="#f8d9dd"/>
<rect x="933.7" y="1938.8" width="54.1" height="54.1" fill="#f6b0b8"/>
<rect x="826.8" y="1992.3" width="54.1" height="54.1" fill="#fdf7f8"/>
<rect x="880.3" y="1992.3" width="54.1" height="54.1" fill="#f9e4e7"/>
<rect x="933.7" y="1992.3" width="54.1" height="54.1" fill="#f8d9dd"/>
<rect x="826.8" y="2045.8" width="54.1" height="54.1" fill="#ffffff"/>
<rect x="880.3" y="2045.8" width="54.1" height="54.1" fill="#fcf1f3"/>
<rect x="933.7" y="2045.8" width="54.1" height="54.1" fill="#fbecee"/>
<rect x="826.8" y="2099.3" width="54.1" height="54.1" fill="#fbecee"/>
<rect x="880.3" y="2099.3" width="54.1" height="54.1" fill="#f5a4ad"/>
<rect x="933.7" y="2099.3" width="54.1" height="54.1" fill="#dc282a"/>
<rect x="826.8" y="2152.9" width="54.1" height="54.1" fill="#fdf7f8"/>
<rect x="880.3" y="2152.9" width="54.1" height="54.1" fill="#f8d0d6"/>
<rect x="933.7" y="2152.9" width="54.1" height="54.1" fill="#f5abb4"/>
<rect x="826.8" y="2206.4" width="54.1" height="54.1" fill="#f9e2e5"/>
<rect x="880.3" y="2206.4" width="54.1" height="54.1" fill="#ef6e77"/>
<rect x="933.7" y="2206.4" width="54.1" height="54.1" fill="#dc282a"/>
<rect x="826.8" y="1938.8" width="160.4" height="321.1" fill="none" stroke="#000" stroke-width="4"/>
<rect x="827.2" y="1833.1" width="161.8" height="53.2" fill="url(#mfigrad)" stroke="#000" stroke-width="4"/>
<path d="M855.5 1833.1v4M855.5 1886.3v-4" stroke="#000" stroke-width="3"/>
<text transform="translate(861,1857.2) rotate(-90)" text-anchor="middle" font-size="15">5</text>
<path d="M905.7 1833.1v4M905.7 1886.3v-4" stroke="#000" stroke-width="3"/>
<text transform="translate(911.2,1858.7) rotate(-90)" text-anchor="middle" font-size="15">10</text>
<path d="M956.5 1833.1v4M956.5 1886.3v-4" stroke="#000" stroke-width="3"/>
<text transform="translate(962,1858.7) rotate(-90)" text-anchor="middle" font-size="15">15</text>
<rect x="825.4" y="2295.7" width="161.1" height="49.9" fill="url(#mfigrad)" stroke="#000" stroke-width="4"/>
<path d="M841.6 2295.7v4M841.6 2345.6v-4" stroke="#000" stroke-width="3"/>
<text transform="translate(847.1,2318.1) rotate(-90)" text-anchor="middle" font-size="15">2</text>
<path d="M883.8 2295.7v4M883.8 2345.6v-4" stroke="#000" stroke-width="3"/>
<text transform="translate(889.3,2318.1) rotate(-90)" text-anchor="middle" font-size="15">4</text>
<path d="M925.6 2295.7v4M925.6 2345.6v-4" stroke="#000" stroke-width="3"/>
<text transform="translate(931.1,2318.1) rotate(-90)" text-anchor="middle" font-size="15">6</text>
<path d="M967.8 2295.7v4M967.8 2345.6v-4" stroke="#000" stroke-width="3"/>
<text transform="translate(973.3,2318.1) rotate(-90)" text-anchor="middle" font-size="15">8</text>
<text transform="translate(1098.5,1275.5) scale(0.966,1)" text-anchor="middle" font-weight="bold" font-size="51.4">SCA-1</text>
<rect x="1012.2" y="1362" width="54.1" height="54.3" fill="#fffdfd"/>
<rect x="1065.7" y="1362" width="54.1" height="54.3" fill="#fefbfc"/>
<rect x="1119.1" y="1362" width="54.1" height="54.3" fill="#fcf0f1"/>
<rect x="1012.2" y="1415.7" width="54.1" height="54.3" fill="#fffdfd"/>
<rect x="1065.7" y="1415.7" width="54.1" height="54.3" fill="#fefbfc"/>
<rect x="1119.1" y="1415.7" width="54.1" height="54.3" fill="#fdf3f5"/>
<rect x="1012.2" y="1469.3" width="54.1" height="54.3" fill="#fffdfd"/>
<rect x="1065.7" y="1469.3" width="54.1" height="54.3" fill="#fef9fa"/>
<rect x="1119.1" y="1469.3" width="54.1" height="54.3" fill="#f9e2e5"/>
<rect x="1012.2" y="1523" width="54.1" height="54.3" fill="#f9e2e5"/>
<rect x="1065.7" y="1523" width="54.1" height="54.3" fill="#f6b0b8"/>
<rect x="1119.1" y="1523" width="54.1" height="54.3" fill="#dc282a"/>
<rect x="1012.2" y="1576.7" width="54.1" height="54.3" fill="#f9dde0"/>
<rect x="1065.7" y="1576.7" width="54.1" height="54.3" fill="#f6b9c1"/>
<rect x="1119.1" y="1576.7" width="54.1" height="54.3" fill="#e95057"/>
<rect x="1012.2" y="1630.3" width="54.1" height="54.3" fill="#fffdfd"/>
<rect x="1065.7" y="1630.3" width="54.1" height="54.3" fill="#fef9fa"/>
<rect x="1119.1" y="1630.3" width="54.1" height="54.3" fill="#fbecee"/>
<rect x="1012.2" y="1684" width="54.1" height="54.3" fill="#fffdfd"/>
<rect x="1065.7" y="1684" width="54.1" height="54.3" fill="#fefcfc"/>
<rect x="1119.1" y="1684" width="54.1" height="54.3" fill="#fefbfc"/>
<rect x="1012.2" y="1737.6" width="54.1" height="54.3" fill="#fffdfd"/>
<rect x="1065.7" y="1737.6" width="54.1" height="54.3" fill="#fffdfd"/>
<rect x="1119.1" y="1737.6" width="54.1" height="54.3" fill="#fffdfd"/>
<rect x="1012.2" y="1362" width="160.4" height="429.3" fill="none" stroke="#000" stroke-width="4"/>
<rect x="1012.2" y="1938.5" width="54.1" height="54.2" fill="#fdf5f6"/>
<rect x="1065.7" y="1938.5" width="54.1" height="54.2" fill="#fcf1f3"/>
<rect x="1119.1" y="1938.5" width="54.1" height="54.2" fill="#f9dde0"/>
<rect x="1012.2" y="1992.1" width="54.1" height="54.2" fill="#ffffff"/>
<rect x="1065.7" y="1992.1" width="54.1" height="54.2" fill="#fffdfd"/>
<rect x="1119.1" y="1992.1" width="54.1" height="54.2" fill="#fefcfc"/>
<rect x="1012.2" y="2045.6" width="54.1" height="54.2" fill="#fefbfc"/>
<rect x="1065.7" y="2045.6" width="54.1" height="54.2" fill="#fdf7f8"/>
<rect x="1119.1" y="2045.6" width="54.1" height="54.2" fill="#fae8ea"/>
<rect x="1012.2" y="2099.2" width="54.1" height="54.2" fill="#fbecee"/>
<rect x="1065.7" y="2099.2" width="54.1" height="54.2" fill="#f6b9c1"/>
<rect x="1119.1" y="2099.2" width="54.1" height="54.2" fill="#dc282a"/>
<rect x="1012.2" y="2152.8" width="54.1" height="54.2" fill="#fefcfc"/>
<rect x="1065.7" y="2152.8" width="54.1" height="54.2" fill="#fdf7f8"/>
<rect x="1119.1" y="2152.8" width="54.1" height="54.2" fill="#f9dde0"/>
<rect x="1012.2" y="2206.3" width="54.1" height="54.2" fill="#fef9fa"/>
<rect x="1065.7" y="2206.3" width="54.1" height="54.2" fill="#f8d2d7"/>
<rect x="1119.1" y="2206.3" width="54.1" height="54.2" fill="#e13538"/>
<rect x="1012.2" y="1938.5" width="160.4" height="321.4" fill="none" stroke="#000" stroke-width="4"/>
<rect x="1012.8" y="1831.5" width="161" height="52.4" fill="url(#mfigrad)" stroke="#000" stroke-width="4"/>
<path d="M1075.4 1831.5v4M1075.4 1883.9v-4" stroke="#000" stroke-width="3"/>
<text transform="translate(1080.9,1857.7) rotate(-90)" text-anchor="middle" font-size="15">500</text>
<path d="M1137.9 1831.5v4M1137.9 1883.9v-4" stroke="#000" stroke-width="3"/>
<text transform="translate(1143.4,1857.7) rotate(-90)" text-anchor="middle" font-size="15">1000</text>
<rect x="1010.7" y="2295.7" width="161.1" height="49.9" fill="url(#mfigrad)" stroke="#000" stroke-width="4"/>
<path d="M1051.8 2295.7v4M1051.8 2345.6v-4" stroke="#000" stroke-width="3"/>
<text transform="translate(1057.3,2320.6) rotate(-90)" text-anchor="middle" font-size="15">200</text>
<path d="M1094 2295.7v4M1094 2345.6v-4" stroke="#000" stroke-width="3"/>
<text transform="translate(1099.5,2320.6) rotate(-90)" text-anchor="middle" font-size="15">400</text>
<path d="M1136.7 2295.7v4M1136.7 2345.6v-4" stroke="#000" stroke-width="3"/>
<text transform="translate(1142.2,2320.6) rotate(-90)" text-anchor="middle" font-size="15">600</text>
<text transform="translate(1278,1275.5) scale(0.966,1)" text-anchor="middle" font-weight="bold" font-size="51.4">CD69</text>
<rect x="1196.6" y="1363.6" width="54.3" height="54.3" fill="#fef9fa"/>
<rect x="1250.3" y="1363.6" width="54.3" height="54.3" fill="#fcf1f3"/>
<rect x="1304" y="1363.6" width="54.3" height="54.3" fill="#fbeeef"/>
<rect x="1196.6" y="1417.3" width="54.3" height="54.3" fill="#fffdfd"/>
<rect x="1250.3" y="1417.3" width="54.3" height="54.3" fill="#fcf0f1"/>
<rect x="1304" y="1417.3" width="54.3" height="54.3" fill="#f9e0e3"/>
<rect x="1196.6" y="1470.9" width="54.3" height="54.3" fill="#fffdfd"/>
<rect x="1250.3" y="1470.9" width="54.3" height="54.3" fill="#f8d9dd"/>
<rect x="1304" y="1470.9" width="54.3" height="54.3" fill="#f5a4ad"/>
<rect x="1196.6" y="1524.6" width="54.3" height="54.3" fill="#fdf3f5"/>
<rect x="1250.3" y="1524.6" width="54.3" height="54.3" fill="#f8d0d6"/>
<rect x="1304" y="1524.6" width="54.3" height="54.3" fill="#f499a2"/>
<rect x="1196.6" y="1578.2" width="54.3" height="54.3" fill="#fef9fa"/>
<rect x="1250.3" y="1578.2" width="54.3" height="54.3" fill="#f9e2e5"/>
<rect x="1304" y="1578.2" width="54.3" height="54.3" fill="#dc282a"/>
<rect x="1196.6" y="1631.9" width="54.3" height="54.3" fill="#f9e2e5"/>
<rect x="1250.3" y="1631.9" width="54.3" height="54.3" fill="#f7c7ce"/>
<rect x="1304" y="1631.9" width="54.3" height="54.3" fill="#f5abb4"/>
<rect x="1196.6" y="1685.6" width="54.3" height="54.3" fill="#fefbfc"/>
<rect x="1250.3" y="1685.6" width="54.3" height="54.3" fill="#fdf7f8"/>
<rect x="1304" y="1685.6" width="54.3" height="54.3" fill="#fcf1f3"/>
<rect x="1196.6" y="1739.2" width="54.3" height="54.3" fill="#fffdfd"/>
<rect x="1250.3" y="1739.2" width="54.3" height="54.3" fill="#fefbfc"/>
<rect x="1304" y="1739.2" width="54.3" height="54.3" fill="#fdf7f8"/>
<rect x="1196.6" y="1363.6" width="161.1" height="429.3" fill="none" stroke="#000" stroke-width="4"/>
<rect x="1198.8" y="1934.7" width="54" height="54.2" fill="#fae8ea"/>
<rect x="1252.2" y="1934.7" width="54" height="54.2" fill="#fae8ea"/>
<rect x="1305.6" y="1934.7" width="54" height="54.2" fill="#f8d5da"/>
<rect x="1198.8" y="1988.3" width="54" height="54.2" fill="#fefbfc"/>
<rect x="1252.2" y="1988.3" width="54" height="54.2" fill="#fdf5f6"/>
<rect x="1305.6" y="1988.3" width="54" height="54.2" fill="#fbecee"/>
<rect x="1198.8" y="2041.8" width="54" height="54.2" fill="#fdf7f8"/>
<rect x="1252.2" y="2041.8" width="54" height="54.2" fill="#fcf0f1"/>
<rect x="1305.6" y="2041.8" width="54" height="54.2" fill="#f8d5da"/>
<rect x="1198.8" y="2095.4" width="54" height="54.2" fill="#fefcfc"/>
<rect x="1252.2" y="2095.4" width="54" height="54.2" fill="#fbecee"/>
<rect x="1305.6" y="2095.4" width="54" height="54.2" fill="#f9dee2"/>
<rect x="1198.8" y="2149" width="54" height="54.2" fill="#ffffff"/>
<rect x="1252.2" y="2149" width="54" height="54.2" fill="#fcf1f3"/>
<rect x="1305.6" y="2149" width="54" height="54.2" fill="#f9dee2"/>
<rect x="1198.8" y="2202.5" width="54" height="54.2" fill="#fbecee"/>
<rect x="1252.2" y="2202.5" width="54" height="54.2" fill="#f6b0b8"/>
<rect x="1305.6" y="2202.5" width="54" height="54.2" fill="#dc282a"/>
<rect x="1198.8" y="1934.7" width="160.2" height="321.4" fill="none" stroke="#000" stroke-width="4"/>
<rect x="1198" y="1833.6" width="160.6" height="52" fill="url(#mfigrad)" stroke="#000" stroke-width="4"/>
<path d="M1250.8 1833.6v4M1250.8 1885.6v-4" stroke="#000" stroke-width="3"/>
<text transform="translate(1256.3,1857.1) rotate(-90)" text-anchor="middle" font-size="15">5</text>
<path d="M1308 1833.6v4M1308 1885.6v-4" stroke="#000" stroke-width="3"/>
<text transform="translate(1313.5,1858.6) rotate(-90)" text-anchor="middle" font-size="15">10</text>
<rect x="1196.8" y="2294.4" width="162.1" height="52.5" fill="url(#mfigrad)" stroke="#000" stroke-width="4"/>
<path d="M1240.2 2294.4v4M1240.2 2346.9v-4" stroke="#000" stroke-width="3"/>
<text transform="translate(1245.7,2318.2) rotate(-90)" text-anchor="middle" font-size="15">5</text>
<path d="M1286.2 2294.4v4M1286.2 2346.9v-4" stroke="#000" stroke-width="3"/>
<text transform="translate(1291.7,2319.7) rotate(-90)" text-anchor="middle" font-size="15">10</text>
<path d="M1332.3 2294.4v4M1332.3 2346.9v-4" stroke="#000" stroke-width="3"/>
<text transform="translate(1337.8,2319.7) rotate(-90)" text-anchor="middle" font-size="15">15</text>
<text transform="translate(1463,1275.5) scale(0.966,1)" text-anchor="middle" font-weight="bold" font-size="51.4">MHC-II</text>
<rect x="1382" y="1361.7" width="54.3" height="54.2" fill="#fefbfc"/>
<rect x="1435.7" y="1361.7" width="54.3" height="54.2" fill="#fdf7f8"/>
<rect x="1489.4" y="1361.7" width="54.3" height="54.2" fill="#f9dde0"/>
<rect x="1382" y="1415.3" width="54.3" height="54.2" fill="#fffdfd"/>
<rect x="1435.7" y="1415.3" width="54.3" height="54.2" fill="#fffdfd"/>
<rect x="1489.4" y="1415.3" width="54.3" height="54.2" fill="#fcf1f3"/>
<rect x="1382" y="1468.9" width="54.3" height="54.2" fill="#fffdfd"/>
<rect x="1435.7" y="1468.9" width="54.3" height="54.2" fill="#fef9fa"/>
<rect x="1489.4" y="1468.9" width="54.3" height="54.2" fill="#f8d9dd"/>
<rect x="1382" y="1522.5" width="54.3" height="54.2" fill="#fefbfc"/>
<rect x="1435.7" y="1522.5" width="54.3" height="54.2" fill="#fdf3f5"/>
<rect x="1489.4" y="1522.5" width="54.3" height="54.2" fill="#f6bbc3"/>
<rect x="1382" y="1576.1" width="54.3" height="54.2" fill="#fef9fa"/>
<rect x="1435.7" y="1576.1" width="54.3" height="54.2" fill="#fef9fa"/>
<rect x="1489.4" y="1576.1" width="54.3" height="54.2" fill="#fef9fa"/>
<rect x="1382" y="1629.6" width="54.3" height="54.2" fill="#e54449"/>
<rect x="1435.7" y="1629.6" width="54.3" height="54.2" fill="#f38d97"/>
<rect x="1489.4" y="1629.6" width="54.3" height="54.2" fill="#dc282a"/>
<rect x="1382" y="1683.2" width="54.3" height="54.2" fill="#fffdfd"/>
<rect x="1435.7" y="1683.2" width="54.3" height="54.2" fill="#fffdfd"/>
<rect x="1489.4" y="1683.2" width="54.3" height="54.2" fill="#fdf7f8"/>
<rect x="1382" y="1736.8" width="54.3" height="54.2" fill="#fffdfd"/>
<rect x="1435.7" y="1736.8" width="54.3" height="54.2" fill="#fffdfd"/>
<rect x="1489.4" y="1736.8" width="54.3" height="54.2" fill="#fef9fa"/>
<rect x="1382" y="1361.7" width="161.1" height="428.7" fill="none" stroke="#000" stroke-width="4"/>
<rect x="1382" y="1934.7" width="54.1" height="54.2" fill="#fefcfc"/>
<rect x="1435.5" y="1934.7" width="54.1" height="54.2" fill="#fefafb"/>
<rect x="1488.9" y="1934.7" width="54.1" height="54.2" fill="#fef8f9"/>
<rect x="1382" y="1988.3" width="54.1" height="54.2" fill="#fffdfd"/>
<rect x="1435.5" y="1988.3" width="54.1" height="54.2" fill="#fffdfd"/>
<rect x="1488.9" y="1988.3" width="54.1" height="54.2" fill="#fefcfc"/>
<rect x="1382" y="2041.8" width="54.1" height="54.2" fill="#f5abb4"/>
<rect x="1435.5" y="2041.8" width="54.1" height="54.2" fill="#f4949e"/>
<rect x="1488.9" y="2041.8" width="54.1" height="54.2" fill="#dc282a"/>
<rect x="1382" y="2095.4" width="54.1" height="54.2" fill="#fffdfd"/>
<rect x="1435.5" y="2095.4" width="54.1" height="54.2" fill="#fffdfd"/>
<rect x="1488.9" y="2095.4" width="54.1" height="54.2" fill="#fffdfd"/>
<rect x="1382" y="2149" width="54.1" height="54.2" fill="#ffffff"/>
<rect x="1435.5" y="2149" width="54.1" height="54.2" fill="#fffdfd"/>
<rect x="1488.9" y="2149" width="54.1" height="54.2" fill="#fffdfd"/>
<rect x="1382" y="2202.5" width="54.1" height="54.2" fill="#fffdfd"/>
<rect x="1435.5" y="2202.5" width="54.1" height="54.2" fill="#fffdfd"/>
<rect x="1488.9" y="2202.5" width="54.1" height="54.2" fill="#fefbfc"/>
<rect x="1382" y="1934.7" width="160.4" height="321.4" fill="none" stroke="#000" stroke-width="4"/>
<rect x="1382.4" y="1830.6" width="161.5" height="53.3" fill="url(#mfigrad)" stroke="#000" stroke-width="4"/>
<path d="M1430.8 1830.6v4M1430.8 1883.9v-4" stroke="#000" stroke-width="3"/>
<text transform="translate(1436.3,1857.2) rotate(-90)" text-anchor="middle" font-size="15">500</text>
<path d="M1480.4 1830.6v4M1480.4 1883.9v-4" stroke="#000" stroke-width="3"/>
<text transform="translate(1485.9,1857.2) rotate(-90)" text-anchor="middle" font-size="15">1000</text>
<path d="M1530 1830.6v4M1530 1883.9v-4" stroke="#000" stroke-width="3"/>
<text transform="translate(1535.5,1857.2) rotate(-90)" text-anchor="middle" font-size="15">1500</text>
<rect x="1380.3" y="2294.4" width="162" height="52.5" fill="url(#mfigrad)" stroke="#000" stroke-width="4"/>
<path d="M1430.9 2294.4v4M1430.9 2346.9v-4" stroke="#000" stroke-width="3"/>
<text transform="translate(1436.4,2320.7) rotate(-90)" text-anchor="middle" font-size="15">500</text>
<path d="M1480.9 2294.4v4M1480.9 2346.9v-4" stroke="#000" stroke-width="3"/>
<text transform="translate(1486.4,2320.7) rotate(-90)" text-anchor="middle" font-size="15">1000</text>
<path d="M1531.9 2294.4v4M1531.9 2346.9v-4" stroke="#000" stroke-width="3"/>
<text transform="translate(1537.4,2320.7) rotate(-90)" text-anchor="middle" font-size="15">1500</text>
<text transform="translate(1648,1275.5) scale(0.966,1)" text-anchor="middle" font-weight="bold" font-size="51.4">CD48</text>
<rect x="1571.2" y="1363.5" width="54.3" height="54.4" fill="#f8d9dd"/>
<rect x="1624.9" y="1363.5" width="54.3" height="54.4" fill="#f8d0d6"/>
<rect x="1678.5" y="1363.5" width="54.3" height="54.4" fill="#f5abb4"/>
<rect x="1571.2" y="1417.3" width="54.3" height="54.4" fill="#f59fa9"/>
<rect x="1624.9" y="1417.3" width="54.3" height="54.4" fill="#f5a9b1"/>
<rect x="1678.5" y="1417.3" width="54.3" height="54.4" fill="#f5abb4"/>
<rect x="1571.2" y="1471" width="54.3" height="54.4" fill="#f38d97"/>
<rect x="1624.9" y="1471" width="54.3" height="54.4" fill="#f59fa9"/>
<rect x="1678.5" y="1471" width="54.3" height="54.4" fill="#f6b0b8"/>
<rect x="1571.2" y="1524.8" width="54.3" height="54.4" fill="#f0757f"/>
<rect x="1624.9" y="1524.8" width="54.3" height="54.4" fill="#f6b0b8"/>
<rect x="1678.5" y="1524.8" width="54.3" height="54.4" fill="#f6b4bc"/>
<rect x="1571.2" y="1578.5" width="54.3" height="54.4" fill="#f6b4bc"/>
<rect x="1624.9" y="1578.5" width="54.3" height="54.4" fill="#f6bec5"/>
<rect x="1678.5" y="1578.5" width="54.3" height="54.4" fill="#f7c0c7"/>
<rect x="1571.2" y="1632.3" width="54.3" height="54.4" fill="#dc282a"/>
<rect x="1624.9" y="1632.3" width="54.3" height="54.4" fill="#f38d97"/>
<rect x="1678.5" y="1632.3" width="54.3" height="54.4" fill="#f5a4ad"/>
<rect x="1571.2" y="1686.1" width="54.3" height="54.4" fill="#ffffff"/>
<rect x="1624.9" y="1686.1" width="54.3" height="54.4" fill="#fffdfd"/>
<rect x="1678.5" y="1686.1" width="54.3" height="54.4" fill="#fefcfc"/>
<rect x="1571.2" y="1739.8" width="54.3" height="54.4" fill="#f9e4e7"/>
<rect x="1624.9" y="1739.8" width="54.3" height="54.4" fill="#f9e4e7"/>
<rect x="1678.5" y="1739.8" width="54.3" height="54.4" fill="#f9e4e7"/>
<rect x="1571.2" y="1363.5" width="161" height="430.1" fill="none" stroke="#000" stroke-width="4"/>
<rect x="1569.1" y="1932.3" width="54" height="54.1" fill="#fbecee"/>
<rect x="1622.5" y="1932.3" width="54" height="54.1" fill="#fdf3f5"/>
<rect x="1675.9" y="1932.3" width="54" height="54.1" fill="#fbeeef"/>
<rect x="1569.1" y="1985.8" width="54" height="54.1" fill="#f8d7dc"/>
<rect x="1622.5" y="1985.8" width="54" height="54.1" fill="#f8d9dd"/>
<rect x="1675.9" y="1985.8" width="54" height="54.1" fill="#f8d5da"/>
<rect x="1569.1" y="2039.3" width="54" height="54.1" fill="#fef9fa"/>
<rect x="1622.5" y="2039.3" width="54" height="54.1" fill="#fffdfd"/>
<rect x="1675.9" y="2039.3" width="54" height="54.1" fill="#ffffff"/>
<rect x="1569.1" y="2092.8" width="54" height="54.1" fill="#f9dee2"/>
<rect x="1622.5" y="2092.8" width="54" height="54.1" fill="#f8d4d9"/>
<rect x="1675.9" y="2092.8" width="54" height="54.1" fill="#f6b4bc"/>
<rect x="1569.1" y="2146.2" width="54" height="54.1" fill="#f7c0c7"/>
<rect x="1622.5" y="2146.2" width="54" height="54.1" fill="#f7cbd1"/>
<rect x="1675.9" y="2146.2" width="54" height="54.1" fill="#f7cbd1"/>
<rect x="1569.1" y="2199.7" width="54" height="54.1" fill="#dc282a"/>
<rect x="1622.5" y="2199.7" width="54" height="54.1" fill="#dc282a"/>
<rect x="1675.9" y="2199.7" width="54" height="54.1" fill="#df3033"/>
<rect x="1569.1" y="1932.3" width="160.2" height="320.9" fill="none" stroke="#000" stroke-width="4"/>
<rect x="1571.6" y="1833.6" width="161.9" height="52" fill="url(#mfigrad)" stroke="#000" stroke-width="4"/>
<path d="M1632.5 1833.6v4M1632.5 1885.6v-4" stroke="#000" stroke-width="3"/>
<text transform="translate(1638,1859.6) rotate(-90)" text-anchor="middle" font-size="15">200</text>
<path d="M1694.5 1833.6v4M1694.5 1885.6v-4" stroke="#000" stroke-width="3"/>
<text transform="translate(1700,1859.6) rotate(-90)" text-anchor="middle" font-size="15">400</text>
<rect x="1567.4" y="2292.4" width="162.1" height="52.9" fill="url(#mfigrad)" stroke="#000" stroke-width="4"/>
<path d="M1589.4 2292.4v4M1589.4 2345.3v-4" stroke="#000" stroke-width="3"/>
<text transform="translate(1594.9,2318.9) rotate(-90)" text-anchor="middle" font-size="15">100</text>
<path d="M1650.9 2292.4v4M1650.9 2345.3v-4" stroke="#000" stroke-width="3"/>
<text transform="translate(1656.4,2318.9) rotate(-90)" text-anchor="middle" font-size="15">200</text>
<path d="M1711.7 2292.4v4M1711.7 2345.3v-4" stroke="#000" stroke-width="3"/>
<text transform="translate(1717.2,2318.9) rotate(-90)" text-anchor="middle" font-size="15">300</text>
<text transform="translate(126.3,1311.8) scale(1.2,1)" font-weight="bold" font-size="61" text-anchor="end">j</text>
<text x="483.2" y="1346" text-anchor="middle" font-size="51">A</text>
<text x="541.7" y="1346" text-anchor="middle" font-size="51">B</text>
<text x="597.2" y="1346" text-anchor="middle" font-size="51">C</text>
<text x="442" y="1399.5" text-anchor="end" font-weight="bold" font-size="41">Alveolar macrophages</text>
<text x="442" y="1453" text-anchor="end" font-weight="bold" font-size="41">Macrophages</text>
<text x="442" y="1507" text-anchor="end" font-weight="bold" font-size="41">Ly6C<tspan font-size="25" dy="-14">high</tspan><tspan dy="14"> monocytes</tspan></text>
<text x="442" y="1561.7" text-anchor="end" font-weight="bold" font-size="41">Ly6C<tspan font-size="25" dy="-14">low</tspan><tspan dy="14"> monocytes</tspan></text>
<text x="442" y="1614.5" text-anchor="end" font-weight="bold" font-size="41">Plasmacytoid DCs</text>
<text x="442" y="1667.5" text-anchor="end" font-weight="bold" font-size="41">Conventional DCs</text>
<text x="442" y="1720.5" text-anchor="end" font-weight="bold" font-size="41">Neutrophils</text>
<text x="442" y="1775" text-anchor="end" font-weight="bold" font-size="41">Eosinophils</text>
<text x="442" y="1974.8" text-anchor="end" font-weight="bold" font-size="41">MAIT cells</text>
<text x="442" y="2026.5" text-anchor="end" font-weight="bold" font-size="41">NK cells</text>
<text x="442" y="2081.5" text-anchor="end" font-weight="bold" font-size="41">B cells</text>
<text x="442" y="2134.5" text-anchor="end" font-weight="bold" font-size="41">CD4<tspan font-size="23" dy="-13">+</tspan><tspan dy="13"> T cells</tspan></text>
<text x="442" y="2189.5" text-anchor="end" font-weight="bold" font-size="41">CD8<tspan font-size="23" dy="-13">+</tspan><tspan dy="13"> T cells</tspan></text>
<text x="430" y="2241.8" text-anchor="end" font-weight="bold" font-size="41"><tspan font-family="'Liberation Serif', 'Times New Roman', serif" font-weight="normal">γδ</tspan> T cells</text>
<text transform="translate(433.3,1874.5) scale(0.955,1)" text-anchor="end" font-size="43">MFI</text>
<text transform="translate(440.6,2335) scale(0.955,1)" text-anchor="end" font-size="43">MFI</text>
</svg></body></html>
